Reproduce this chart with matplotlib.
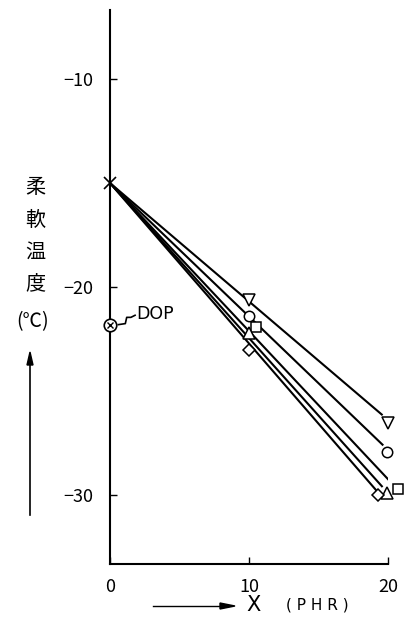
import matplotlib.pyplot as plt
from matplotlib.path import Path

plt.rcParams['font.family'] = ['Noto Sans CJK JP', 'DejaVu Sans']

# start point (x = 0)
x0, y0 = 0, -15

# series markers: (x, y) at ~10 and ~20 PHR
markers = ['v', 'o', 's', '^', 'D']
pts_x = [[10.0, 20.0], [10.0, 19.9], [10.5, 20.7], [10.0, 19.9], [10.0, 19.3]]
pts_y = [[-20.6, -26.5], [-21.4, -27.9], [-21.9, -29.7], [-22.2, -29.9], [-23.0, -30.0]]
# where each line ends
end_x = [19.6, 19.65, 20.1, 19.6, 19.2]
end_y = [-26.15, -27.6, -29.3, -29.6, -29.8]

dop_y = -21.8

fig = plt.figure(figsize=(4.06, 6.41), dpi=100)
ax = fig.add_axes([0.271, 0.12, 0.685, 0.864])

for m, xs, ys, ex, ey in zip(markers, pts_x, pts_y, end_x, end_y):
    ax.plot([x0, ex], [y0, ey], color='black', lw=1.5, solid_capstyle='butt')
    ms = 8.5 if m in ('v', '^') else 7.5
    if m == 'D':
        ms = 6.5
    ax.plot(xs, ys, ls='none', marker=m, ms=ms, mfc='white', mec='black',
            mew=1.1, clip_on=False, zorder=3)

ax.plot([x0], [y0], marker='x', ms=9, color='black', mew=1.2, clip_on=False, zorder=4)

# DOP point
ax.plot([0], [dop_y], marker='o', ms=9, mfc='white', mec='black', mew=1.2,
        clip_on=False, zorder=4)
ax.plot([0], [dop_y], marker='x', ms=5, color='black', mew=1.0, clip_on=False, zorder=5)
sq = Path([(0.6, dop_y), (1.1, dop_y + 0.05), (1.2, dop_y + 0.35),
           (1.5, dop_y + 0.35), (1.8, dop_y + 0.45)])
ax.plot(*zip(*sq.vertices), color='black', lw=1.2)
ax.text(1.9, dop_y + 0.5, 'DOP', fontsize=12.5, family='DejaVu Sans',
        va='center', ha='left')

ax.set_xlim(0, 20)
ax.set_ylim(-33.3, -6.7)
ax.set_xticks([0, 10, 20])
ax.set_yticks([-10, -20, -30])
ax.set_yticklabels(['\u221210', '\u221220', '\u221230'])
ax.tick_params(direction='in', length=5, width=1, labelsize=13, pad=12)
ax.tick_params(axis='x', pad=10)
ax.spines['top'].set_visible(False)
ax.spines['right'].set_visible(False)
ax.spines['left'].set_linewidth(1.5)
ax.spines['bottom'].set_linewidth(1.5)

# y axis label (vertical stacked characters)
for i, ch in enumerate(['柔', '軟', '温', '度']):
    fig.text(35 / 406, 1 - (188 + 32 * i) / 641, ch, fontsize=14.5,
             ha='center', va='center')
fig.text(33 / 406, 1 - 322 / 641, '(℃)', fontsize=14, ha='center', va='center')
fig.add_artist(plt.Line2D([30 / 406, 30 / 406], [1 - 515 / 641, 1 - 360 / 641],
                          color='black', lw=1.2))
fig.add_artist(plt.Polygon([[27 / 406, 1 - 365 / 641], [33 / 406, 1 - 365 / 641],
                            [30 / 406, 1 - 352 / 641]], color='black'))

# x axis label
fig.add_artist(plt.Line2D([153 / 406, 228 / 406], [1 - 606 / 641, 1 - 606 / 641],
                          color='black', lw=1.0))
fig.add_artist(plt.Polygon([[220 / 406, 1 - 603 / 641], [220 / 406, 1 - 609 / 641],
                            [235 / 406, 1 - 606 / 641]], color='black'))
fig.text(254 / 406, 1 - 605 / 641, 'X', fontsize=15, ha='center', va='center',
         family='DejaVu Sans')
fig.text(317 / 406, 1 - 605 / 641, '( P H R )', fontsize=11, ha='center', va='center',
         family='DejaVu Sans')

fig.savefig('out.png', dpi=100)
